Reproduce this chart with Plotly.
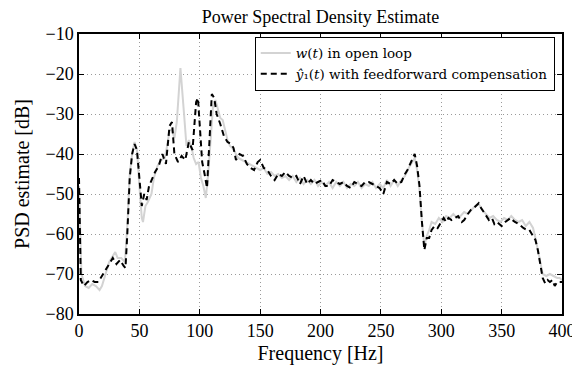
import plotly.graph_objects as go

# Black dashed series: y1 with feedforward compensation
freq_y1 = [0, 1.5, 4, 7, 10, 13, 16, 19, 22, 25, 28, 31, 34, 37, 38.5, 40, 42, 44, 46, 48,
           50, 52, 54, 56, 58, 61, 63, 66, 69, 72, 75, 77, 79, 82, 85, 88, 91, 94, 97, 98.5,
           100, 102, 104, 106, 108, 110, 112, 114, 117, 120, 123, 126, 128, 130, 133, 136, 139,
           142, 145, 148, 150, 153, 156, 159, 162, 165, 168, 171, 174, 177, 180, 183, 186, 189,
           192, 195, 198, 201, 204, 207, 210, 213, 216, 219, 222, 225, 228, 231, 234, 237, 240,
           243, 246, 249, 252, 255, 258, 261, 264, 267, 270, 272, 275, 278, 280, 282, 284, 286,
           288, 290, 292, 294.5, 297, 300, 302, 304, 306, 308.5, 311, 314, 317, 319, 322, 324.5,
           327, 331, 333, 335, 337, 339.5, 342, 344, 346, 348, 350, 353, 355, 357.4, 359, 361,
           364, 366, 368, 371, 373, 375, 378, 380, 382, 384, 386, 388, 390, 392, 394, 396, 398, 400]
psd_y1 = [-46, -71.5, -73, -72, -71.5, -72, -72, -70.5, -69, -67.5, -66, -67.5, -66.5, -68, -68.5,
          -60, -46, -40, -37.5, -39, -47, -53, -50, -51.5, -48, -46, -44.5, -43, -40, -42.5, -33,
          -32, -40, -42, -40.5, -41.5, -37, -39, -27, -26, -33, -42, -45, -48.5, -37, -25, -26,
          -30, -32.5, -35.5, -37, -37.5, -38.5, -41.5, -40, -40.5, -42.5, -43.5, -44, -42, -41.5,
          -43.5, -44, -45.5, -46.5, -45, -45.5, -44.5, -45.5, -46, -45.5, -47.5, -45.5, -47.5,
          -46.5, -47.5, -47, -46.5, -48, -48, -46.5, -47, -47.5, -47, -48, -48.5, -47, -47.5,
          -48, -47, -47, -47.5, -48, -48.5, -50, -47, -47.5, -46.5, -47.5, -47, -45, -44, -42,
          -40, -43, -48, -57, -64, -61, -61, -59, -58, -58.5, -57, -56, -57, -56, -56.5, -56,
          -55.5, -57, -56.5, -55, -54, -53.5, -52.3, -53.5, -54.5, -55.5, -56.5, -56, -57.5, -57,
          -57.5, -58, -57, -56.5, -56, -56.5, -57, -57.5, -58, -58.5, -59, -59, -60, -61.5, -64,
          -68, -71, -72.3, -71.5, -72, -71.5, -73, -72, -72, -72]

# Grey solid series: w(t) in open loop
freq_w = [0, 2, 5, 8, 11, 14, 17, 19, 22, 25, 28, 30, 32, 35, 38, 40, 42, 44, 46, 48, 50, 52,
          53, 55, 57, 60, 62, 65, 68, 71, 73, 75, 77, 79, 81, 84, 87, 89, 91, 93, 95, 97, 99,
          101, 103, 105, 107, 109, 111, 113, 115, 117, 119, 121, 123, 125, 127, 129, 132, 135,
          138, 141, 144, 147, 150, 153, 156, 159, 162, 165, 168, 171, 174, 177, 180, 183, 186,
          189, 192, 195, 198, 201, 204, 207, 210, 213, 216, 219, 222, 225, 228, 231, 234, 237,
          240, 243, 246, 249, 252, 255, 258, 261, 264, 267, 270, 273, 276, 278, 280, 282, 284,
          286, 288, 290, 292, 295, 298, 301, 304, 307, 310, 313, 316, 319, 322, 325, 328, 331,
          334, 337, 340, 343, 346, 349, 352, 355, 358, 361, 364, 367, 370, 373, 376, 378, 380,
          382, 384, 387, 390, 393, 396, 398, 400]
psd_w = [-48, -70, -73, -73.5, -72.5, -73, -74, -73, -70, -67, -65.5, -64.5, -66, -66, -67, -58,
         -45, -40, -37, -39, -48, -56, -57, -53, -52, -50, -46, -43, -41.5, -41, -38, -34, -34,
         -36, -32, -18.5, -30, -38, -36.5, -38, -41, -42.5, -42, -46, -48, -51, -45, -35, -28,
         -26.5, -29, -31, -31.5, -34, -36.5, -38, -38.5, -39.5, -41, -41.5, -42, -42.5, -43,
         -43.5, -44, -43.5, -45, -44.5, -45.5, -45, -46, -45.5, -46.5, -45.5, -47, -46, -47.5,
         -46.5, -47.5, -46.5, -48, -47, -48, -47, -48.5, -47, -48, -47, -48.5, -47.5, -48, -47,
         -48.5, -47.5, -48, -47, -48.5, -47.5, -48.5, -46.5, -48, -46.5, -48, -46.5, -45.5,
         -43.5, -42, -41, -44, -49, -57, -63, -60.5, -59, -57, -57.5, -56, -57, -55.5, -56, -55,
         -56, -55.5, -54.5, -55, -54, -53, -52.5, -54, -55, -56, -55.5, -56.5, -57, -56, -56.5,
         -55.5, -56.5, -57, -56.5, -58, -57, -58.5, -61, -64, -67, -70, -70.5, -70, -70.5, -71,
         -71, -71.5]

x_ticks = [0, 50, 100, 150, 200, 250, 300, 350, 400]
y_ticks = [-80, -70, -60, -50, -40, -30, -20, -10]

FONT = "Liberation Serif, Times New Roman, serif"
LEG_FONT = "DejaVu Serif, serif"

fig = go.Figure()
fig.add_trace(go.Scatter(
    x=freq_w, y=psd_w, mode="lines",
    name="<i>w</i>(<i>t</i>) in open loop",
    line=dict(color="#d3d3d3", width=2)))
fig.add_trace(go.Scatter(
    x=freq_y1, y=psd_y1, mode="lines",
    name="<i>ŷ</i>₁(<i>t</i>) with feedforward compensation",
    line=dict(color="black", width=2, dash="6px,4px")))

axis_common = dict(
    showline=True, linecolor="black", linewidth=1.5, mirror="ticks",
    ticks="inside", ticklen=5, tickcolor="black", tickwidth=1,
    showgrid=True, gridcolor="#9a9a9a", gridwidth=1, griddash="1px,3px",
    zeroline=False, automargin=False, ticklabeloverflow="allow",
    tickfont=dict(family=FONT, size=18, color="black"),
)

fig.update_xaxes(range=[0, 400], tickvals=x_ticks,
                 title=dict(text="Frequency [Hz]", font=dict(family=FONT, size=20, color="black"), standoff=6),
                 **axis_common)
fig.update_yaxes(range=[-80, -10], tickvals=y_ticks,
                 title=dict(text="PSD estimate [dB]", font=dict(family=FONT, size=20, color="black"), standoff=10),
                 **axis_common)

W, H = 572, 363
fig.update_layout(
    width=W, height=H,
    margin=dict(l=71, r=18, t=26, b=57),
    paper_bgcolor="white", plot_bgcolor="white",
    title=dict(text="Power Spectral Density Estimate", xref="paper", x=0.5, xanchor="center",
               yref="container", y=1 - 9 / H, yanchor="middle",
               font=dict(family=FONT, size=18, color="black")),
    legend=dict(x=0.985, y=0.99, xanchor="right", yanchor="top",
                bgcolor="white", bordercolor="black", borderwidth=1,
                font=dict(family=LEG_FONT, size=13.5, color="black"),
                tracegroupgap=0, itemwidth=30),
    showlegend=True,
)

fig.write_html("out.html")
